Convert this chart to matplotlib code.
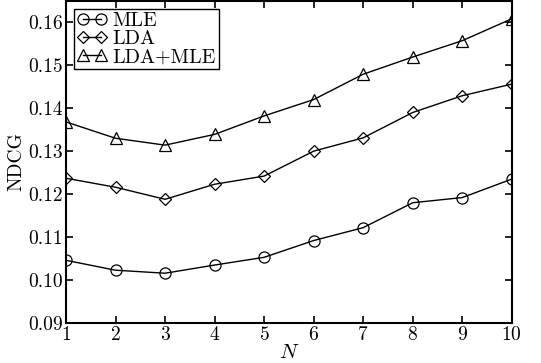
import matplotlib
matplotlib.use("Agg")
import matplotlib.pyplot as plt

plt.rcParams['font.family'] = 'serif'
plt.rcParams['font.serif'] = ['cmr10']
plt.rcParams['mathtext.fontset'] = 'cm'
plt.rcParams['axes.formatter.use_mathtext'] = True

N = [1, 2, 3, 4, 5, 6, 7, 8, 9, 10]
mle = [0.1046, 0.1023, 0.1016, 0.1035, 0.1053, 0.1092, 0.1122, 0.1180, 0.1192, 0.1235]
lda = [0.1237, 0.1216, 0.1188, 0.1223, 0.1242, 0.1300, 0.1331, 0.1390, 0.1429, 0.1456]
lda_mle = [0.1368, 0.1330, 0.1314, 0.1339, 0.1382, 0.1420, 0.1479, 0.1519, 0.1557, 0.1608]
yticks = [0.09, 0.10, 0.11, 0.12, 0.13, 0.14, 0.15, 0.16]

fig = plt.figure(figsize=(5.41, 3.63), dpi=100)
ax = fig.add_axes([0.122, 0.110, 0.824, 0.888])

estilo = dict(color='black', linewidth=1.0, markerfacecolor='none',
              markeredgecolor='black', markeredgewidth=0.9)
ax.plot(N, mle, marker='o', markersize=8, label='MLE', **estilo)
ax.plot(N, lda, marker='D', markersize=6, label='LDA', **estilo)
ax.plot(N, lda_mle, marker='^', markersize=8, label='LDA+MLE', **estilo)

ax.set_xlim(1, 10)
ax.set_ylim(0.09, 0.165)
ax.set_xticks(N)
ax.set_yticks(yticks)
ax.set_yticklabels(['%.2f' % v for v in yticks])

ax.tick_params(direction='in', top=True, right=True, length=5, width=1.2,
               labelsize=14, pad=2)
for s in ax.spines.values():
    s.set_linewidth(1.5)

ax.set_xlabel('$N$', fontsize=15, labelpad=0)
ax.set_ylabel('NDCG', fontsize=14, labelpad=2)

leg = ax.legend(loc='upper left', numpoints=2, fontsize=14.5, frameon=True,
                fancybox=False, edgecolor='black', framealpha=1,
                labelspacing=0.0, handlelength=1.5, handletextpad=0.25,
                borderpad=0.15, borderaxespad=0.4)
leg.get_frame().set_linewidth(1.0)

fig.savefig('out.png', dpi=100)
